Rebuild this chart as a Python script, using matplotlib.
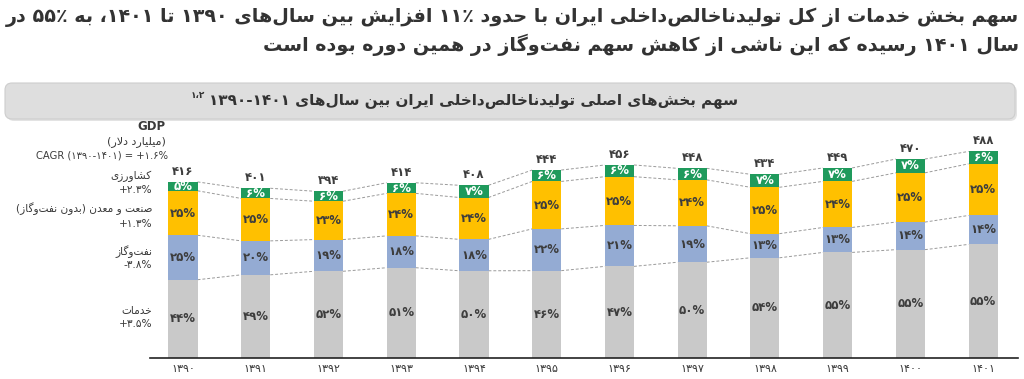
import matplotlib
matplotlib.use("Agg")
import matplotlib.pyplot as plt
from matplotlib.patches import FancyBboxPatch

# ---- data ----
years = [1390, 1391, 1392, 1393, 1394, 1395, 1396, 1397, 1398, 1399, 1400, 1401]
gdp = [416, 401, 394, 414, 408, 444, 456, 448, 434, 449, 470, 488]
services = [44, 49, 52, 51, 50, 46, 47, 50, 54, 55, 55, 55]
oil_gas = [25, 20, 19, 18, 18, 22, 21, 19, 13, 13, 14, 14]
industry = [25, 25, 23, 24, 24, 25, 25, 24, 25, 24, 25, 25]
agri = [5, 6, 6, 6, 7, 6, 6, 6, 7, 7, 7, 6]

sector_names = ["خدمات", "نفت‌وگاز", "صنعت و معدن (بدون نفت‌وگاز)", "کشاورزی"]
sector_cagr = ["+3.5%", "-3.8%", "+1.3%", "+2.3%"]
colors = ["#c9c9c9", "#94abd3", "#ffc000", "#1f9a5c"]

title = ["سهم بخش خدمات از کل تولیدناخالص‌داخلی ایران با حدود ۱۱٪ افزایش بین سال‌های ۱۳۹۰ تا ۱۴۰۱، به ۵۵٪ در",
         "سال ۱۴۰۱ رسیده که این ناشی از کاهش سهم نفت‌وگاز در همین دوره بوده است"]
subtitle = "سهم بخش‌های اصلی تولیدناخالص‌داخلی ایران بین سال‌های ۱۳۹۰-۱۴۰۱"
subnote = "۱،۲"

# ---- minimal persian shaping + bidi (matplotlib has none) ----
FORMS = {
    'ا': (0xFE8D, 0xFE8E, None, None), 'آ': (0xFE81, 0xFE82, None, None),
    'د': (0xFEA9, 0xFEAA, None, None), 'ذ': (0xFEAB, 0xFEAC, None, None),
    'ر': (0xFEAD, 0xFEAE, None, None), 'ز': (0xFEAF, 0xFEB0, None, None),
    'ژ': (0xFB8A, 0xFB8B, None, None), 'و': (0xFEED, 0xFEEE, None, None),
    'ب': (0xFE8F, 0xFE90, 0xFE91, 0xFE92), 'پ': (0xFB56, 0xFB57, 0xFB58, 0xFB59),
    'ت': (0xFE95, 0xFE96, 0xFE97, 0xFE98), 'ث': (0xFE99, 0xFE9A, 0xFE9B, 0xFE9C),
    'ج': (0xFE9D, 0xFE9E, 0xFE9F, 0xFEA0), 'چ': (0xFB7A, 0xFB7B, 0xFB7C, 0xFB7D),
    'ح': (0xFEA1, 0xFEA2, 0xFEA3, 0xFEA4), 'خ': (0xFEA5, 0xFEA6, 0xFEA7, 0xFEA8),
    'س': (0xFEB1, 0xFEB2, 0xFEB3, 0xFEB4), 'ش': (0xFEB5, 0xFEB6, 0xFEB7, 0xFEB8),
    'ص': (0xFEB9, 0xFEBA, 0xFEBB, 0xFEBC), 'ض': (0xFEBD, 0xFEBE, 0xFEBF, 0xFEC0),
    'ط': (0xFEC1, 0xFEC2, 0xFEC3, 0xFEC4), 'ظ': (0xFEC5, 0xFEC6, 0xFEC7, 0xFEC8),
    'ع': (0xFEC9, 0xFECA, 0xFECB, 0xFECC), 'غ': (0xFECD, 0xFECE, 0xFECF, 0xFED0),
    'ف': (0xFED1, 0xFED2, 0xFED3, 0xFED4), 'ق': (0xFED5, 0xFED6, 0xFED7, 0xFED8),
    'ک': (0xFB8E, 0xFB8F, 0xFB90, 0xFB91), 'گ': (0xFB92, 0xFB93, 0xFB94, 0xFB95),
    'ل': (0xFEDD, 0xFEDE, 0xFEDF, 0xFEE0), 'م': (0xFEE1, 0xFEE2, 0xFEE3, 0xFEE4),
    'ن': (0xFEE5, 0xFEE6, 0xFEE7, 0xFEE8), 'ه': (0xFEE9, 0xFEEA, 0xFEEB, 0xFEEC),
    'ی': (0xFBFC, 0xFBFD, 0xFBFE, 0xFBFF),
}
MIRROR = {'(': ')', ')': '('}
DIGITS = set('0123456789۰۱۲۳۴۵۶۷۸۹')


def shape(text):
    toks = []
    i = 0
    while i < len(text):
        if text[i] == 'ل' and i + 1 < len(text) and text[i + 1] == 'ا':
            toks.append('LA')
            i += 2
        else:
            toks.append(text[i])
            i += 1
    out = []
    for k, t in enumerate(toks):
        prev = toks[k - 1] if k > 0 else None
        nxt = toks[k + 1] if k + 1 < len(toks) else None
        p = prev in FORMS and FORMS[prev][2] is not None
        if t == 'LA':
            out.append(chr(0xFEFC if p else 0xFEFB))
            continue
        if t == '\u200c':
            continue
        if t not in FORMS:
            out.append(t)
            continue
        f = FORMS[t]
        n = f[2] is not None and (nxt in FORMS or nxt == 'LA')
        if p and n:
            out.append(chr(f[3]))
        elif p:
            out.append(chr(f[1]))
        elif n:
            out.append(chr(f[2]))
        else:
            out.append(chr(f[0]))
    return ''.join(out)


def rtl(text):
    s = shape(text)
    flags = []
    for i, c in enumerate(s):
        if c in DIGITS or (c.isascii() and c.isalpha()):
            flags.append(True)
        elif c in '.-،' and 0 < i < len(s) - 1 and s[i - 1] in DIGITS and s[i + 1] in DIGITS:
            flags.append(True)
        elif c in '%٪' and i > 0 and s[i - 1] in DIGITS:
            flags.append(True)
        else:
            flags.append(False)
    runs = []
    for c, f in zip(s, flags):
        if runs and runs[-1][0] == f:
            runs[-1][1].append(c)
        else:
            runs.append([f, [c]])
    vis = []
    for f, chars in reversed(runs):
        if f:
            vis.append(''.join(chars))
        else:
            vis.append(''.join(MIRROR.get(c, c) for c in reversed(chars)))
    return ''.join(vis)


def fa(s):
    return str(s).translate(str.maketrans('0123456789', '۰۱۲۳۴۵۶۷۸۹'))


plt.rcParams['font.family'] = ['DejaVu Sans']
txt = '#3a3a3a'

fig = plt.figure(figsize=(10.24, 3.79), dpi=100)

# overlay in pixel coordinates for titles / box / side labels
bg = fig.add_axes([0, 0, 1, 1])
bg.set_xlim(0, 1024)
bg.set_ylim(379, 0)
bg.axis('off')

bg.text(1019, 17, rtl(title[0]), ha='right', va='center', fontsize=13.75,
        fontweight='bold', color='#333333')
bg.text(1019, 45, rtl(title[1]), ha='right', va='center', fontsize=13.75,
        fontweight='bold', color='#333333')

bg.add_patch(FancyBboxPatch((7, 85), 1010, 36, boxstyle='round,pad=0,rounding_size=7',
                            fc='#c8c8c8', ec='none', alpha=0.5))
bg.add_patch(FancyBboxPatch((5, 83), 1010, 36, boxstyle='round,pad=0,rounding_size=7',
                            fc='#dedede', ec='#cdcdcd', lw=0.8))
st = bg.text(738, 101, rtl(subtitle), ha='right', va='center', fontsize=11,
             fontweight='bold', color='#333333')
fig.canvas.draw()
bb = st.get_window_extent()
bg.text(bb.x0 - 4, 95, subnote, ha='right', va='center', fontsize=6.5,
        fontweight='bold', color='#333333')

bg.text(166, 127, 'GDP', ha='right', va='center', fontsize=8.5, fontweight='bold', color=txt)
bg.text(166, 142, rtl('(میلیارد دلار)'), ha='right', va='center', fontsize=8, color=txt)
bg.text(168, 155, 'CAGR (' + fa('1390') + '-' + fa('1401') + ') = ' + fa('+1.6%'),
        ha='right', va='center', fontsize=7.2, color=txt)

label_y = [(311, 324), (252, 265), (209, 224), (176, 190)]
for name, cagr, (y1, y2) in zip(sector_names, sector_cagr, label_y):
    bg.text(152, y1, rtl(name), ha='right', va='center', fontsize=7.6, color=txt)
    bg.text(152, y2, fa(cagr), ha='right', va='center', fontsize=7.6, color=txt)

# ---- chart ----
ax = fig.add_axes([150 / 1024, 21 / 379, 868 / 1024, 218 / 379])
ax.patch.set_alpha(0)
x = list(range(len(years)))
w = 0.4
shares = [services, oil_gas, industry, agri]
tot = [sum(s[i] for s in shares) for i in x]
bottoms = [0.0] * len(x)
levels = [list(bottoms)]
for si, s in enumerate(shares):
    h = [gdp[i] * s[i] / tot[i] for i in x]
    ax.bar(x, h, w, bottom=bottoms, color=colors[si], zorder=2)
    for i in x:
        ax.text(i, bottoms[i] + h[i] / 2, fa(s[i]) + '%', ha='center', va='center',
                fontsize=8.5, fontweight='bold',
                color='white' if si == 3 else '#3d3d3d', zorder=3)
    bottoms = [bottoms[i] + h[i] for i in x]
    levels.append(list(bottoms))

for lv in levels:
    for i in x[:-1]:
        ax.plot([i + w / 2, i + 1 - w / 2], [lv[i], lv[i + 1]], color='#9a9a9a',
                lw=0.7, ls=(0, (3, 2)), zorder=1)

for i in x:
    ax.text(i, gdp[i] + 10, fa(gdp[i]), ha='center', va='bottom', fontsize=8.5,
            fontweight='bold', color='#3d3d3d')

ax.set_xlim(-0.454, 11.48)
ax.set_ylim(0, 515)
ax.set_xticks(x)
ax.set_xticklabels([fa(y) for y in years], fontsize=8, color=txt)
ax.tick_params(axis='x', length=0, pad=4)
ax.set_yticks([])
for sp in ['top', 'right', 'left']:
    ax.spines[sp].set_visible(False)
ax.spines['bottom'].set_color('#222222')
ax.spines['bottom'].set_linewidth(1.2)

fig.savefig('out.png', dpi=100)
